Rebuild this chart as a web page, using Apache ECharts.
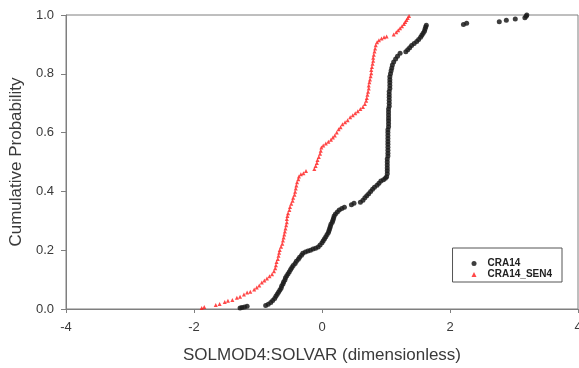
<!DOCTYPE html>
<html>
<head>
<meta charset="utf-8">
<script src="https://cdn.jsdelivr.net/npm/echarts@6/dist/echarts.min.js"></script>
<style>
  html, body { margin: 0; padding: 0; background: #fff; }
  #chart { width: 579px; height: 368px; }
</style>
</head>
<body>
<div id="chart"></div>
<script>
// Empirical cumulative distributions of SOLMOD4:SOLVAR, [value, cumulative probability]
const cra14 = [
  [-1.28, 0.003], [-1.25, 0.005], [-1.21, 0.007], [-1.17, 0.009],
  [-0.88, 0.012], [-0.84, 0.016], [-0.80, 0.022], [-0.77, 0.029], [-0.74, 0.036],
  [-0.72, 0.043], [-0.70, 0.050], [-0.68, 0.057], [-0.66, 0.064], [-0.64, 0.071],
  [-0.63, 0.078], [-0.61, 0.085], [-0.60, 0.092], [-0.58, 0.099], [-0.57, 0.106],
  [-0.55, 0.113], [-0.53, 0.120], [-0.51, 0.127], [-0.49, 0.134], [-0.47, 0.141],
  [-0.45, 0.148], [-0.42, 0.155], [-0.40, 0.162], [-0.37, 0.169], [-0.35, 0.176],
  [-0.32, 0.183], [-0.30, 0.190], [-0.26, 0.194], [-0.22, 0.197], [-0.18, 0.200],
  [-0.14, 0.204], [-0.10, 0.207], [-0.06, 0.211], [-0.03, 0.218], [0.00, 0.225],
  [0.02, 0.232], [0.04, 0.239], [0.06, 0.246], [0.08, 0.253], [0.10, 0.260],
  [0.11, 0.267], [0.12, 0.274], [0.13, 0.281], [0.14, 0.288], [0.16, 0.295],
  [0.17, 0.302], [0.18, 0.309], [0.19, 0.316], [0.21, 0.323], [0.24, 0.330],
  [0.27, 0.337], [0.31, 0.342], [0.35, 0.346],
  [0.46, 0.355], [0.50, 0.360],
  [0.60, 0.363], [0.64, 0.370], [0.67, 0.378], [0.70, 0.385], [0.73, 0.392],
  [0.76, 0.400], [0.79, 0.407], [0.82, 0.414], [0.86, 0.421], [0.89, 0.428],
  [0.92, 0.435], [0.96, 0.440], [0.99, 0.445], [1.01, 0.450],
  [1.02, 0.460], [1.02, 0.470], [1.02, 0.480], [1.02, 0.490], [1.02, 0.500],
  [1.02, 0.510], [1.03, 0.520], [1.03, 0.530], [1.03, 0.540], [1.03, 0.550],
  [1.03, 0.560], [1.03, 0.570], [1.03, 0.580], [1.03, 0.590], [1.03, 0.600],
  [1.03, 0.610], [1.04, 0.620], [1.04, 0.630], [1.04, 0.640], [1.04, 0.650],
  [1.04, 0.660], [1.04, 0.670], [1.04, 0.680], [1.05, 0.690], [1.05, 0.700],
  [1.05, 0.710], [1.05, 0.720], [1.05, 0.730], [1.05, 0.740], [1.06, 0.750],
  [1.06, 0.760], [1.06, 0.770], [1.06, 0.780],
  [1.06, 0.790], [1.07, 0.800], [1.08, 0.810], [1.09, 0.820], [1.10, 0.830],
  [1.12, 0.840], [1.15, 0.850], [1.18, 0.860], [1.22, 0.870],
  [1.31, 0.875], [1.34, 0.882], [1.37, 0.889], [1.40, 0.896], [1.44, 0.903],
  [1.48, 0.910], [1.51, 0.917], [1.54, 0.924], [1.56, 0.931], [1.58, 0.938],
  [1.60, 0.945], [1.61, 0.952], [1.62, 0.959], [1.63, 0.965],
  [2.21, 0.968], [2.26, 0.972], [2.77, 0.977], [2.88, 0.982], [3.02, 0.986],
  [3.17, 0.991], [3.19, 0.996], [3.20, 1.000]
];

const cra14Sen4 = [
  [-1.88, 0.003], [-1.84, 0.007], [-1.66, 0.014], [-1.60, 0.017], [-1.52, 0.024],
  [-1.47, 0.028], [-1.40, 0.031], [-1.33, 0.038], [-1.28, 0.042], [-1.22, 0.049],
  [-1.17, 0.056], [-1.12, 0.059], [-1.06, 0.066], [-1.02, 0.073], [-0.98, 0.080],
  [-0.94, 0.090], [-0.90, 0.097], [-0.86, 0.104], [-0.82, 0.111], [-0.78, 0.118],
  [-0.75, 0.128], [-0.73, 0.139], [-0.72, 0.149], [-0.71, 0.160], [-0.69, 0.170],
  [-0.68, 0.181], [-0.67, 0.191], [-0.66, 0.201], [-0.64, 0.212], [-0.62, 0.222],
  [-0.61, 0.233], [-0.60, 0.243], [-0.59, 0.253], [-0.58, 0.264], [-0.57, 0.274],
  [-0.56, 0.285], [-0.55, 0.295], [-0.55, 0.306], [-0.54, 0.316], [-0.53, 0.326],
  [-0.51, 0.337], [-0.50, 0.347], [-0.48, 0.358], [-0.46, 0.368], [-0.45, 0.378],
  [-0.43, 0.389], [-0.42, 0.399], [-0.41, 0.410], [-0.40, 0.420], [-0.39, 0.431],
  [-0.37, 0.441], [-0.36, 0.451], [-0.33, 0.458], [-0.29, 0.462], [-0.25, 0.469],
  [-0.12, 0.476], [-0.10, 0.486], [-0.08, 0.497], [-0.07, 0.507], [-0.05, 0.517],
  [-0.03, 0.528], [-0.02, 0.538], [-0.01, 0.549], [0.02, 0.556], [0.06, 0.563],
  [0.10, 0.569], [0.14, 0.576], [0.17, 0.583], [0.20, 0.590], [0.23, 0.600],
  [0.26, 0.611], [0.29, 0.618], [0.32, 0.628], [0.36, 0.635], [0.40, 0.642],
  [0.44, 0.652], [0.48, 0.659], [0.52, 0.666], [0.56, 0.673], [0.60, 0.680],
  [0.64, 0.687], [0.67, 0.697], [0.69, 0.708], [0.70, 0.718], [0.71, 0.729],
  [0.72, 0.739], [0.73, 0.750], [0.73, 0.760], [0.74, 0.771], [0.75, 0.781],
  [0.76, 0.792], [0.77, 0.802], [0.77, 0.813], [0.78, 0.823], [0.79, 0.834],
  [0.80, 0.844], [0.80, 0.855], [0.81, 0.865], [0.82, 0.876], [0.83, 0.886],
  [0.84, 0.897], [0.86, 0.907], [0.89, 0.914], [0.93, 0.920], [0.97, 0.924],
  [1.01, 0.927],
  [1.12, 0.934], [1.16, 0.941], [1.19, 0.948], [1.22, 0.955], [1.25, 0.962],
  [1.28, 0.969], [1.30, 0.976], [1.32, 0.983], [1.34, 0.990], [1.36, 0.997]
];

const seriesNames = ['CRA14', 'CRA14_SEN4'];
const xRange = [-4, 4];
const xStep = 2;
const yRange = [0, 1];
const yStep = 0.2;

const axisGray = '#7f7f7f';
const textGray = '#3a3a3a';
const fontFamily = 'Arial, "Liberation Sans", Helvetica, sans-serif';

const chart = echarts.init(document.getElementById('chart'), null, { renderer: 'canvas' });

chart.setOption({
  animation: false,
  backgroundColor: '#ffffff',
  grid: {
    left: 66, right: 1, top: 15, bottom: 59,
    containLabel: false,
    outerBoundsMode: 'none',
    show: true, borderColor: axisGray, borderWidth: 1, backgroundColor: 'transparent'
  },
  legend: {
    data: [
      { name: seriesNames[0], icon: 'circle' },
      { name: seriesNames[1], icon: 'triangle' }
    ],
    orient: 'vertical',
    right: 17, top: 248,
    itemWidth: 5, itemHeight: 5, itemGap: 0,
    padding: [10, 10, 2, 19],
    borderColor: '#555', borderWidth: 1,
    textStyle: { fontFamily, fontSize: 10, lineHeight: 11, fontWeight: 'bold', color: '#222', padding: [0, 0, 0, 6] }
  },
  xAxis: {
    type: 'value',
    min: xRange[0], max: xRange[1], interval: xStep,
    name: 'SOLMOD4:SOLVAR (dimensionless)',
    nameLocation: 'middle', nameGap: 38,
    nameTextStyle: { fontFamily, fontSize: 17, color: textGray },
    axisLine: { show: true, onZero: false, lineStyle: { color: axisGray, width: 1 } },
    axisTick: { show: true, inside: false, length: 4, lineStyle: { color: axisGray } },
    axisLabel: { margin: 12, fontFamily, fontSize: 13, color: textGray,
      formatter: v => String(v) },
    splitLine: { show: false }
  },
  yAxis: {
    type: 'value',
    min: yRange[0], max: yRange[1], interval: yStep,
    name: 'Cumulative Probability',
    nameLocation: 'middle', nameGap: 40,
    nameTextStyle: { fontFamily, fontSize: 17, color: textGray },
    axisLine: { show: true, onZero: false, lineStyle: { color: axisGray, width: 1 } },
    axisTick: { show: true, inside: false, length: 5, lineStyle: { color: axisGray } },
    axisLabel: { margin: 12, fontFamily, fontSize: 13, color: textGray,
      formatter: v => v.toFixed(1) },
    splitLine: { show: false }
  },
  series: [
    {
      name: seriesNames[0],
      type: 'scatter',
      data: cra14,
      symbol: 'circle',
      symbolSize: 5,
      itemStyle: { color: '#1c1c1c', opacity: 0.85 },
      clip: false,
      z: 2
    },
    {
      name: seriesNames[1],
      type: 'scatter',
      data: cra14Sen4,
      symbol: 'triangle',
      symbolSize: 4,
      itemStyle: { color: '#ff1a1a' },
      clip: false,
      z: 3
    }
  ]
});
</script>
</body>
</html>
